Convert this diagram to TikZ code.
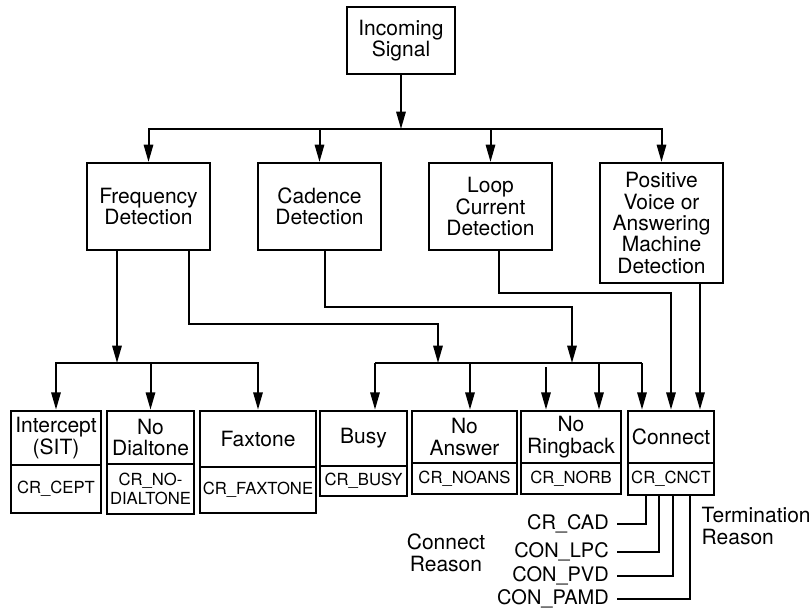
\documentclass[tikz,border=0pt]{standalone}
\usepackage{fontspec}
\setmainfont{TeX Gyre Heros}
\usetikzlibrary{arrows.meta}

\begin{document}
\begin{tikzpicture}[x=0.75pt,y=-0.75pt,
  signal/.style={draw,line width=1.5pt,inner sep=0pt,align=center,
    minimum width=81pt,minimum height=50pt,font=\fontsize{15.75}{16}\selectfont},
  detect/.style={draw,line width=1.5pt,inner sep=0pt,align=center,
    minimum width=92.25pt,minimum height=65.25pt,font=\fontsize{15.75}{16}\selectfont},
  result/.style={draw,line width=2pt,inner sep=0pt,align=center,
    font=\fontsize{15.75}{16}\selectfont},
  code/.style={draw,line width=2pt,inner sep=0pt,align=center,
    font=\fontsize{12.5}{14.25}\selectfont},
  reason/.style={inner xsep=6pt,inner ysep=1pt,anchor=east,
    font=\fontsize{15}{16}\selectfont},
  note/.style={align=center,font=\fontsize{15.75}{16.5}\selectfont},
  arr/.style={-{Triangle[length=13pt,width=7pt]},line width=1.5pt},
  wire/.style={line width=1.5pt}
]
\useasboundingbox (0,0) rectangle (811,611);

% Incoming signal and the four detectors.
\node[signal] (sig) at (401,40.5) {Incoming\\Signal};
\node[detect] (freq) at (148.5,206.5) {Frequency\\Detection};
\node[detect] (cad) at (319.5,206.5) {Cadence\\Detection};
\node[detect] (loop) at (490.5,206.5) {Loop\\Current\\Detection};
\node[detect,minimum height=90pt] (pvd) at (661.5,223)
  {Positive\\Voice or\\Answering\\Machine\\Detection};
\coordinate (top) at (401,129);
\draw[arr] (sig) -- (top);
\draw[arr] (top) -| (freq); \draw[arr] (top) -| (cad);
\draw[arr] (top) -| (loop); \draw[arr] (top) -| (pvd);

% Call results with their termination codes.
\node[result,minimum width=67.5pt,minimum height=40.5pt] (icpt) at (56,438) {Intercept\\(SIT)};
\node[code,minimum width=67.5pt,minimum height=36pt] (icptc) at (56,489) {CR\_CEPT};
\node[result,minimum width=65.25pt,minimum height=39.75pt] (nodt) at (150.5,437.5) {No\\Dialtone};
\node[code,minimum width=65.25pt,minimum height=37.5pt] (nodtc) at (150.5,489) {CR\_NO-\\DIALTONE};
\node[result,minimum width=87pt,minimum height=42pt] (fax) at (258,439) {Faxtone};
\node[code,minimum width=87pt,minimum height=34.5pt] (faxc) at (258,490) {CR\_FAXTONE};
\node[result,minimum width=65.25pt,minimum height=41.25pt] (busy) at (363.5,438.5) {Busy};
\node[code,minimum width=65.25pt,minimum height=22.5pt] (busyc) at (363.5,481) {CR\_BUSY};
\node[result,minimum width=78.75pt,minimum height=39pt] (noans) at (464.5,437) {No\\Answer};
\node[code,minimum width=78.75pt,minimum height=23.25pt] (noansc) at (464.5,478.5) {CR\_NOANS};
\node[result,minimum width=75pt,minimum height=39pt] (norb) at (571,437) {No\\Ringback};
\node[code,minimum width=75pt,minimum height=23.25pt] (norbc) at (571,478.5) {CR\_NORB};
\node[result,minimum width=64.5pt,minimum height=39pt] (cnct) at (671,437) {Connect};
\node[code,minimum width=64.5pt,minimum height=24pt] (cnctc) at (671,479) {CR\_CNCT};

% Frequency detection branches.
\coordinate (lb) at (117,363);
\coordinate (rb1) at (438,363);
\coordinate (rb2) at (572,363);
\draw[arr] (freq.south -| lb) -- (lb);
\draw[arr] (lb) -| (icpt); \draw[arr] (lb) -| (nodt); \draw[arr] (lb) -| (fax);
\draw[arr] (freq.south -| 189,0) |- (rb1 |- 0,324) -- (rb1);
\draw[arr] (cad.south -| 325,0) |- (rb2 |- 0,307) -- (rb2);
\draw[wire] (375,363) -- (642,363);
\foreach \x/\n in {375/busy,470/noans,599/norb,642/cnct}
  \draw[arr] (\x,363) -- (\n.north -| \x,0);
\draw[arr] (546,367) -- (norb.north -| 546,0);
\draw[arr] (loop.south -| 499,0) |- (671,293) -- (cnct.north -| 671,0);
\draw[arr] (pvd.south -| 700,0) -- (cnct.north -| 700,0);

% Connect reasons.
\node[reason] (rcad) at (617,524) {CR\_CAD};
\node[reason] (rlpc) at (617,552) {CON\_LPC};
\node[reason] (rpvd) at (617,576) {CON\_PVD};
\node[reason] (rpamd) at (617,599) {CON\_PAMD};
\draw[wire] (cnctc.south -| 646,0) |- (rcad);
\draw[wire] (cnctc.south -| 659,0) |- (rlpc);
\draw[wire] (cnctc.south -| 673,0) |- (rpvd);
\draw[wire] (cnctc.south -| 690,0) |- (rpamd);
\node[note] (cr) at (446,553) {Connect\\Reason};
\node[note,align=left,anchor=west] (tr) at (697,526) {Termination\\Reason};
\end{tikzpicture}
\end{document}
